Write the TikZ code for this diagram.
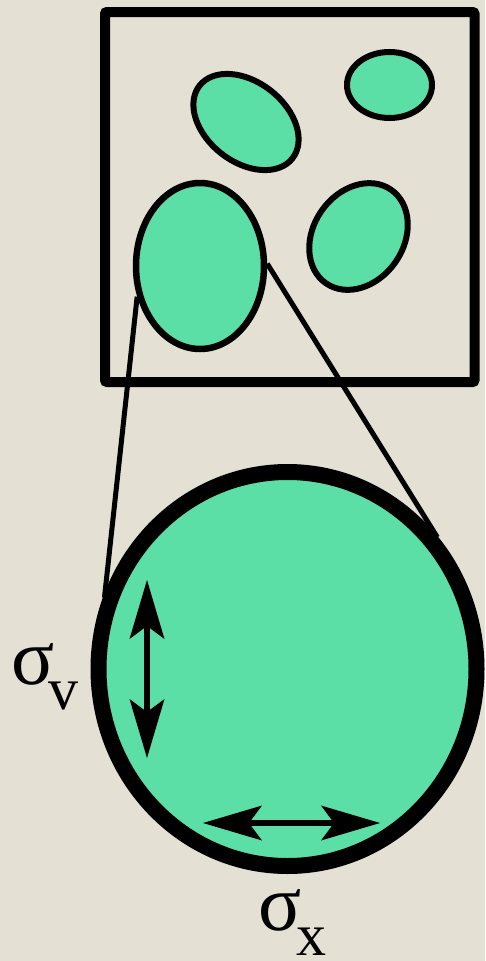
\documentclass[tikz,border=0pt]{standalone}
\usepackage{fontspec}
\setmainfont{Liberation Serif}
\usetikzlibrary{shapes.geometric,arrows.meta}
\definecolor{PaperBeige}{HTML}{E5E0D4}
\definecolor{CellGreen}{HTML}{5CDFA6}
\newcommand{\labsub}{\fontsize{60pt}{60pt}\selectfont}

\begin{document}
\begin{tikzpicture}[x=1pt,y=1pt,
  cell/.style={draw=black, fill=CellGreen, line width=6pt},
  zoomline/.style={line width=5pt, shorten >=-6pt},
  widtharrow/.style={line width=6pt, {Stealth[length=59pt,width=35pt,inset=13pt,line width=0pt]}-{Stealth[length=59pt,width=35pt,inset=13pt,line width=0pt]}},
  sigmalabel/.style={font=\fontsize{80pt}{80pt}\selectfont, inner sep=0pt, anchor=base west}]
  \fill[PaperBeige] (0,0) rectangle (485,-961);
  \useasboundingbox (0,0) rectangle (485,-961);
  % field of view
  \draw[line width=10pt, rounded corners=2pt] (105,-12) rectangle (474.5,-382);
  \draw[cell] (389.5,-85) ellipse (42.5 and 33);
  \draw[cell, rotate around={-38:(246,-122)}] (246,-122) ellipse (59 and 40);
  \draw[cell, rotate around={55:(358.5,-236.5)}] (358.5,-236.5) ellipse (57 and 45);
  \node[cell, ellipse, line width=6.5pt, inner sep=0pt, minimum width=128pt, minimum height=166pt] (blob) at (200,-266) {};
  % magnified blob
  \node[cell, ellipse, line width=16pt, inner sep=0pt, minimum width=378pt, minimum height=394pt] (zoom) at (287.5,-669) {};
  \draw[zoomline] (blob.206) -- (zoom.157);
  \draw[zoomline] (blob.2) -- (zoom.43);
  \draw[widtharrow] (147,-580) -- (147,-758);
  \draw[widtharrow] (203,-823) -- (380,-823);
  \node[sigmalabel] (sigv) at (11,-684) {σ\kern-6pt\raisebox{-25pt}{\labsub v}};
  \node[sigmalabel] (sigx) at (258,-930) {σ\kern-5pt\raisebox{-25pt}{\labsub x}};
\end{tikzpicture}
\end{document}
